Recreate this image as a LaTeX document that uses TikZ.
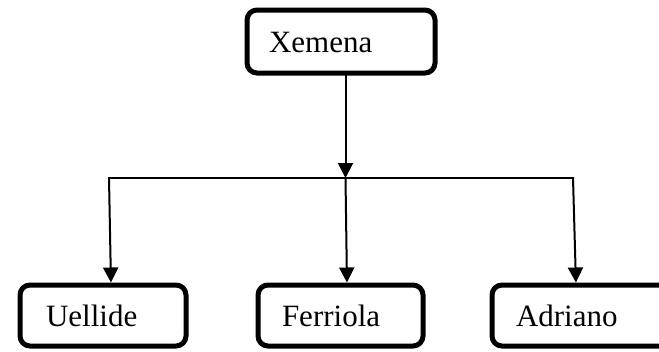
\documentclass[tikz,border=0pt]{standalone}
\usepackage{fontspec}
\setmainfont{Liberation Serif}
\usetikzlibrary{arrows.meta}
\begin{document}
\begin{tikzpicture}[x=1pt,y=-1pt,
  box/.style={draw=black, line width=5pt, rounded corners=10pt, fill=white,
    minimum height=61pt, inner ysep=0pt, outer sep=0pt, anchor=west,
    align=left, text height=21pt, text depth=0pt,
    font=\fontsize{31}{37}\selectfont},
  link/.style={line width=2pt},
  conn/.style={line width=2pt, -{Triangle[length=15pt,width=15pt]}}]
\clip (0,0) rectangle (659,351);
\useasboundingbox (0,0) rectangle (659,351);
\node[box, inner xsep=22pt, text width=144pt, minimum height=63pt] (x) at (247,41.5) {Xemena};
\node[box, inner xsep=26pt, text width=114pt] (u) at (20,315.5) {Uellide};
\node[box, inner xsep=24pt, text width=117pt] (f) at (258,315.5) {Ferriola};
\node[box, inner xsep=24pt, text width=160pt] (a) at (492,315.5) {Adriano};
\coordinate (j) at (345.5,178);
\coordinate (l) at (109,178);
\coordinate (r) at (573,178);
\draw[conn] (x.south -| j) -- (j);
\draw[link, line cap=rect] (l) -- (r);
\draw[conn, shorten >=2.5pt] (l) -- ([xshift=91pt]u.north west);
\draw[conn, shorten >=2.5pt] (j) -- ([xshift=89pt]f.north west);
\draw[conn, shorten >=2.5pt] (r) -- ([xshift=84pt]a.north west);
\end{tikzpicture}
\end{document}
